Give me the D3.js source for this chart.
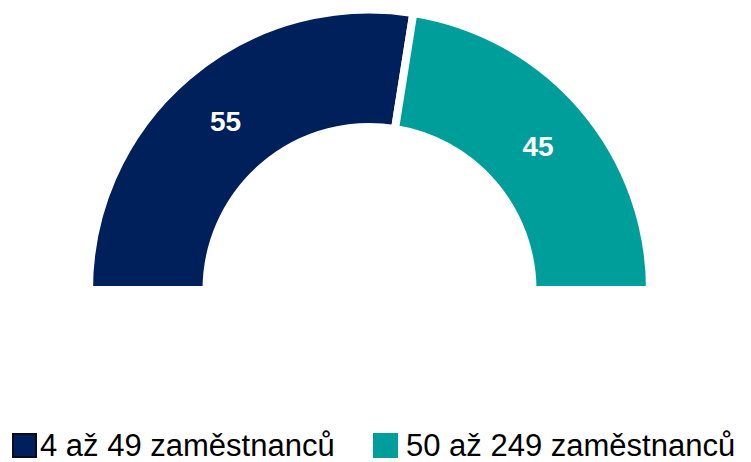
<!DOCTYPE html>
<html>
<head>
<meta charset="utf-8">
<style>
  body { margin: 0; background: #fff; }
  svg text { font-family: "Liberation Sans", Arial, sans-serif; }
</style>
</head>
<body>
<div id="chart"></div>
<script src="https://d3js.org/d3.v7.min.js"></script>
<script>
  // Data
  const categories = ['4 až 49 zaměstnanců', '50 až 249 zaměstnanců'];
  const values = [55, 45];
  const colors = ['#00205b', '#009e9a'];

  const width = 751;
  const height = 462;
  const cx = 369.5, cy = 290;
  const outerR = 280.5, innerR = 163;

  const svg = d3.select('#chart')
    .append('svg')
    .attr('width', width)
    .attr('height', height);

  const pie = d3.pie()
    .sort(null)
    .startAngle(-Math.PI / 2)
    .endAngle(Math.PI / 2);

  const arc = d3.arc()
    .innerRadius(innerR)
    .outerRadius(outerR);

  const g = svg.append('g')
    .attr('transform', `translate(${cx},${cy})`);

  const arcs = pie(values);

  g.selectAll('path')
    .data(arcs)
    .join('path')
    .attr('d', arc)
    .attr('fill', (d, i) => colors[i])
    .attr('stroke', '#fff')
    .attr('stroke-width', 8)
    .attr('stroke-linejoin', 'miter');

  // value labels
  g.selectAll('text')
    .data(arcs)
    .join('text')
    .attr('transform', d => `translate(${arc.centroid(d)})`)
    .attr('text-anchor', 'middle')
    .attr('dy', '0.36em')
    .attr('fill', '#fff')
    .attr('font-weight', 'bold')
    .attr('font-size', 28)
    .text(d => d.data);

  // legend
  const legendX = [12, 373];
  const legend = svg.append('g');
  categories.forEach((c, i) => {
    legend.append('rect')
      .attr('x', legendX[i] + (i === 0 ? 1 : 0))
      .attr('y', i === 0 ? 434 : 433)
      .attr('width', i === 0 ? 23 : 25)
      .attr('height', i === 0 ? 23 : 25)
      .attr('fill', colors[i])
      .attr('stroke', i === 0 ? '#0b0b1e' : 'none')
      .attr('stroke-width', 2);
    legend.append('text')
      .attr('x', legendX[i] + (i === 0 ? 28 : 33))
      .attr('y', 456)
      .attr('font-size', 31)
      .attr('fill', '#000')
      .text(c);
  });
</script>
</body>
</html>
